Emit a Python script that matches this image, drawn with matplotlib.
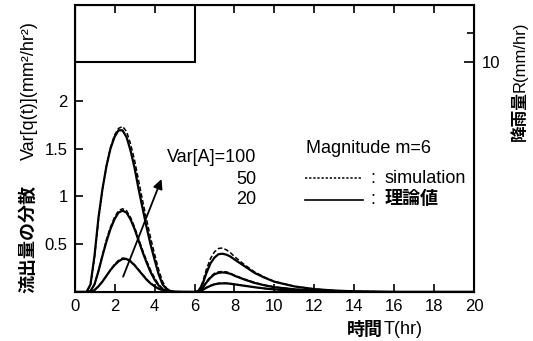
import matplotlib
matplotlib.use("Agg")
import matplotlib.pyplot as plt
from matplotlib.ticker import FixedLocator, NullFormatter

plt.rcParams['font.family'] = ['Liberation Sans', 'Noto Sans CJK JP']
plt.rcParams['font.size'] = 13

# time axis (hr)
t = [0.0, 0.6, 0.8, 1.0, 1.2, 1.4, 1.6, 1.8, 2.0, 2.2, 2.4, 2.6, 2.8, 3.0,
     3.2, 3.4, 3.6, 3.8, 4.0, 4.2, 4.4, 4.6, 4.8, 5.0, 5.4, 6.0, 6.2, 6.4,
     6.6, 6.8, 7.0, 7.2, 7.4, 7.6, 7.8, 8.0, 8.5, 9.0, 9.5, 10.0, 11.0,
     12.0, 13.0, 14.0, 16.0, 20.0]

# theory (solid)
th100 = [0, 0, 0.08, 0.38, 0.78, 1.08, 1.32, 1.50, 1.62, 1.69, 1.69, 1.62, 1.48, 1.30,
         1.08, 0.88, 0.68, 0.50, 0.34, 0.19, 0.08, 0.03, 0.01, 0, 0, 0, 0.01, 0.08,
         0.20, 0.30, 0.36, 0.395, 0.40, 0.39, 0.37, 0.34, 0.27, 0.20, 0.15, 0.107, 0.058,
         0.03, 0.015, 0.007, 0, 0]
th50 = [0, 0, 0.01, 0.08, 0.22, 0.38, 0.53, 0.66, 0.76, 0.83, 0.85, 0.83, 0.76, 0.66,
        0.54, 0.42, 0.31, 0.21, 0.13, 0.07, 0.03, 0.01, 0, 0, 0, 0, 0.005, 0.04,
        0.10, 0.15, 0.185, 0.20, 0.205, 0.20, 0.19, 0.17, 0.13, 0.095, 0.07, 0.05, 0.028,
        0.015, 0.007, 0.002, 0, 0]
th20 = [0, 0, 0, 0.02, 0.06, 0.11, 0.17, 0.23, 0.28, 0.32, 0.345, 0.345, 0.32, 0.28,
        0.23, 0.18, 0.13, 0.09, 0.06, 0.035, 0.02, 0.012, 0.007, 0.004, 0.001, 0, 0.003, 0.02,
        0.045, 0.065, 0.08, 0.088, 0.09, 0.09, 0.086, 0.08, 0.065, 0.05, 0.037, 0.027, 0.013,
        0.006, 0.002, 0, 0, 0]

# simulation (dashed)
sim100 = [0, 0, 0.07, 0.36, 0.76, 1.07, 1.32, 1.51, 1.64, 1.71, 1.73, 1.68, 1.55, 1.38,
          1.17, 0.96, 0.76, 0.57, 0.40, 0.24, 0.11, 0.04, 0.01, 0, 0, 0, 0.01, 0.10,
          0.24, 0.35, 0.42, 0.455, 0.46, 0.44, 0.41, 0.37, 0.285, 0.21, 0.155, 0.11, 0.06,
          0.031, 0.015, 0.007, 0, 0]
sim50 = [0, 0, 0.01, 0.08, 0.22, 0.39, 0.55, 0.68, 0.78, 0.85, 0.87, 0.85, 0.78, 0.68,
         0.56, 0.44, 0.33, 0.23, 0.15, 0.08, 0.035, 0.01, 0, 0, 0, 0, 0.005, 0.045,
         0.11, 0.16, 0.195, 0.21, 0.215, 0.21, 0.195, 0.175, 0.135, 0.10, 0.072, 0.052, 0.029,
         0.015, 0.007, 0.002, 0, 0]
sim20 = [0, 0, 0, 0.02, 0.06, 0.11, 0.17, 0.23, 0.29, 0.33, 0.355, 0.35, 0.325, 0.285,
         0.235, 0.185, 0.135, 0.095, 0.062, 0.037, 0.02, 0.012, 0.007, 0.004, 0.001, 0, 0.003, 0.022,
         0.048, 0.068, 0.083, 0.09, 0.093, 0.092, 0.088, 0.082, 0.066, 0.05, 0.037, 0.027, 0.013,
         0.006, 0.002, 0, 0, 0]

# rainfall (mm/hr)
rain_edges = [0, 6]
rain = [10]

xticks = [0, 2, 4, 6, 8, 10, 12, 14, 16, 18, 20]
yticks = [0.5, 1, 1.5, 2]
yticklabels = ['0.5', '1', '1.5', '2']

fig = plt.figure(figsize=(5.33, 3.41), dpi=100)
ax = fig.add_axes([0.1398, 0.1437, 0.7504, 0.8416])

for y in (th100, th50, th20):
    ax.plot(t, y, color='black', lw=1.6, solid_joinstyle='round')
for y in (sim100, sim50, sim20):
    ax.plot(t, y, color='black', lw=1.1, ls=(0, (3, 1.5)))

ax.set_xlim(0, 20)
ax.set_ylim(0, 3.0)
ax.set_xticks(xticks)
ax.set_yticks(yticks)
ax.set_yticklabels(yticklabels)
ax.tick_params(direction='in', length=6, width=1.2, labelsize=12, top=True, pad=5)
for s in ax.spines.values():
    s.set_linewidth(1.5)

ax2 = ax.twinx()
ax2.stairs(rain, rain_edges, color='black', lw=1.5, baseline=0)
ax2.set_ylim(50.4, 0)
ax2.yaxis.set_major_locator(FixedLocator([10]))
ax2.yaxis.set_minor_locator(FixedLocator([5]))
ax2.yaxis.set_minor_formatter(NullFormatter())
ax2.tick_params(direction='in', length=7, width=1.2, labelsize=12, pad=5)
ax2.tick_params(which='minor', direction='in', length=5, width=1.2)

# arrow and labels
ax.annotate('', xy=(4.35, 1.18), xytext=(2.43, 0.16),
            arrowprops=dict(arrowstyle='-|>', color='black', lw=1.3,
                            mutation_scale=14, shrinkA=0, shrinkB=0))
ax.text(9.1, 1.41, 'Var[A]=100', ha='right', va='center', fontsize=13)
ax.text(9.1, 1.18, '50', ha='right', va='center', fontsize=13)
ax.text(9.1, 0.97, '20', ha='right', va='center', fontsize=13)

ax.text(0.579, 0.5, 'Magnitude m=6', transform=ax.transAxes, ha='left', va='center', fontsize=13)
ax.plot([0.577, 0.718], [0.397, 0.397], transform=ax.transAxes, color='black', lw=1.1,
        ls=(0, (1.5, 1.2)))
ax.plot([0.577, 0.722], [0.321, 0.321], transform=ax.transAxes, color='black', lw=1.2)
ax.text(0.745, 0.397, ':', transform=ax.transAxes, ha='center', va='center', fontsize=13)
ax.text(0.745, 0.321, ':', transform=ax.transAxes, ha='center', va='center', fontsize=13)
ax.text(0.774, 0.397, 'simulation', transform=ax.transAxes, ha='left', va='center', fontsize=13)
ax.text(0.774, 0.321, '理論値', transform=ax.transAxes, ha='left', va='center', fontsize=13,
        weight='bold')

# axis labels
fig.text(29 / 533, 1 - 293 / 341, '流出量の分散', rotation=90, ha='center', va='bottom',
         fontsize=13, weight='bold')
fig.text(29 / 533, 1 - 160 / 341, 'Var[q(t)](mm²/hr²)', rotation=90, ha='center', va='bottom',
         fontsize=13)
fig.text(520 / 533, 1 - 141 / 341, '降雨量', rotation=90, ha='center', va='bottom',
         fontsize=12, weight='bold')
fig.text(520 / 533, 1 - 92 / 341, 'R(mm/hr)', rotation=90, ha='center', va='bottom',
         fontsize=12)
fig.text(347 / 533, 1 - 330 / 341, '時間', ha='left', va='center', fontsize=13, weight='bold')
fig.text(384 / 533, 1 - 330 / 341, 'T(hr)', ha='left', va='center', fontsize=13)

fig.savefig('out.png', dpi=100)
